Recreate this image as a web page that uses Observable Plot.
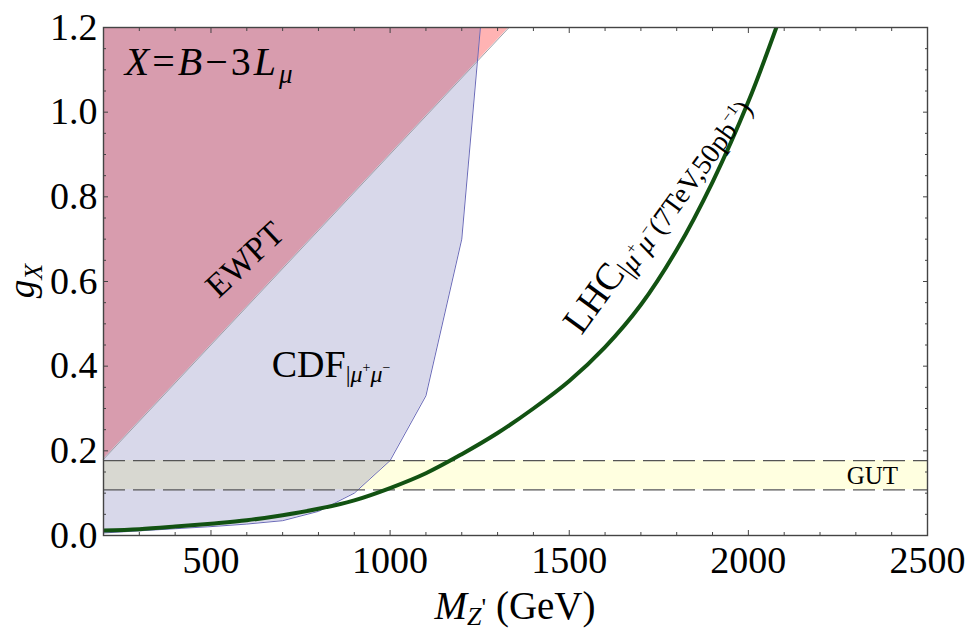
<!DOCTYPE html>
<html><head><meta charset="utf-8">
<script src="https://cdn.jsdelivr.net/npm/d3@7"></script>
<script src="https://cdn.jsdelivr.net/npm/@observablehq/plot@0.6"></script>
<style>body{margin:0;background:#fff} svg{display:block}</style>
</head><body><div id="chart"></div>
<script>
// LHC dimuon bound (green curve)
const lhcM = [200,300,400,500,600,700,800,900,1000,1100,1200,1300,1400,1500,1600,1700,1800,1900,2000,2078];
const lhcG = [0.012,0.015,0.021,0.028,0.036,0.048,0.063,0.083,0.112,0.147,0.192,0.242,0.30,0.365,0.445,0.545,0.675,0.835,1.025,1.2];
// CDF dimuon excluded region boundary
const cdfM = [200,300,400,500,600,700,800,900,1000,1100,1200,1252];
const cdfG = [0.006,0.011,0.016,0.021,0.027,0.035,0.057,0.10,0.177,0.33,0.70,1.2];
// EWPT boundary
const ewptM = [200, 1332];
const ewptG = [0.18, 1.2];
// GUT band
const gutM = [200, 2500];
const gutLow = [0.108, 0.108];
const gutHigh = [0.177, 0.177];
const gMax = 1.2;
// ticks
const xMajor = [500,1000,1500,2000,2500];
const xMinor = [300,400,600,700,800,900,1100,1200,1300,1400,1600,1700,1800,1900,2100,2200,2300,2400];
const yMajor = [0,0.2,0.4,0.6,0.8,1.0,1.2];
const yMinor = [0.05,0.1,0.15,0.25,0.3,0.35,0.45,0.5,0.55,0.65,0.7,0.75,0.85,0.9,0.95,1.05,1.1,1.15];
// annotation anchors (data units)
const labelTitle = {M: 261, g: 1.087};
const labelEWPT = {M: 594, g: 0.652};
const labelCDF = {M: 671, g: 0.374};
const labelLHC = {M: 1742, g: 0.759};
const labelGUT = {M: 2276, g: 0.120};

const lhc = lhcM.map((m,i)=>({m, g: lhcG[i]}));
const cdf = cdfM.map((m,i)=>({m, g: cdfG[i]}));
const ewpt = ewptM.map((m,i)=>({m, g: ewptG[i]}));
const gut = gutM.map((m,i)=>({m, lo: gutLow[i], hi: gutHigh[i]}));

const tickCol = "#444";
const plot = Plot.plot({
  width: 972, height: 631,
  marginLeft: 103, marginRight: 45, marginTop: 27, marginBottom: 96,
  x: {domain: [200, 2500]},
  y: {domain: [0, 1.2]},
  style: {fontFamily: "Liberation Serif", fontSize: "38px", background: "white", color: "#000"},
  marks: [
    Plot.areaY(ewpt, {x: "m", y1: "g", y2: () => gMax, fill: "#ffb3b3"}),
    Plot.areaY(gut, {x: "m", y1: "lo", y2: "hi", fill: "#ffffe0"}),
    Plot.areaY(cdf, {x: "m", y1: "g", y2: () => gMax, fill: "#49499d", fillOpacity: 0.215}),
    Plot.line(ewpt, {x: "m", y: "g", stroke: "#a0a0a8", strokeWidth: 1}),
    Plot.line(cdf, {x: "m", y: "g", stroke: "#6a6ab8", strokeWidth: 1}),
    Plot.ruleY(gutHigh.slice(0,1).concat(gutLow.slice(0,1)), {stroke: "#555", strokeWidth: 1.3, strokeDasharray: "22,8"}),
    Plot.line(lhc, {x: "m", y: "g", stroke: "#125212", strokeWidth: 4, curve: "catmull-rom", clip: true}),
    Plot.frame({stroke: tickCol, strokeWidth: 1.4}),
    // inward ticks on all four sides
    Plot.axisX(xMajor, {anchor: "bottom", tickSize: -5, fill: "none", stroke: tickCol, label: null}),
    Plot.axisX(xMinor, {anchor: "bottom", tickSize: -3, fill: "none", stroke: tickCol, label: null}),
    Plot.axisX(xMajor, {anchor: "top", tickSize: -5, fill: "none", stroke: tickCol, label: null}),
    Plot.axisX(xMinor, {anchor: "top", tickSize: -3, fill: "none", stroke: tickCol, label: null}),
    Plot.axisY(yMajor, {anchor: "left", tickSize: -5, fill: "none", stroke: tickCol, label: null}),
    Plot.axisY(yMinor, {anchor: "left", tickSize: -3, fill: "none", stroke: tickCol, label: null}),
    Plot.axisY(yMajor, {anchor: "right", tickSize: -5, fill: "none", stroke: tickCol, label: null}),
    Plot.axisY(yMinor, {anchor: "right", tickSize: -3, fill: "none", stroke: tickCol, label: null}),
    // tick labels
    Plot.axisX(xMajor, {anchor: "bottom", tickSize: 0, tickPadding: 11, fontSize: 38, fill: "#000", tickFormat: d => String(d), label: null}),
    Plot.axisY(yMajor, {anchor: "left", tickSize: 0, tickPadding: 6, fontSize: 38, fill: "#000", tickFormat: d3.format(".1f"), label: null})
  ]
});
document.getElementById("chart").appendChild(plot);

const sx = plot.scale("x"), sy = plot.scale("y");
const X = v => sx.apply(v), Y = v => sy.apply(v);
const root = d3.select(plot).append("g").style("font-family", "Liberation Serif").attr("fill", "#000").attr("text-anchor", "start");
function rich(text, segs) {
  let prev = 0;
  for (const [t, size, shift, italic] of segs) {
    text.append("tspan").style("font-size", size + "px").attr("dy", shift - prev)
      .style("font-style", italic ? "italic" : "normal").text(t);
    prev = shift;
  }
  return text;
}
// X = B - 3L_mu
rich(root.append("text").attr("x", X(labelTitle.M)).attr("y", Y(labelTitle.g)).attr("text-anchor", "start").style("letter-spacing", "3px"),
  [["X",40,0,true],["=",40,0,false],["B",40,0,true],["\u2212",40,0,false],["3",40,0,false],["L",40,0,true],["\u03bc",27,8,true]]);
// EWPT
root.append("text").attr("transform", `translate(${X(labelEWPT.M)},${Y(labelEWPT.g)}) rotate(-43)`)
  .attr("text-anchor", "middle").attr("dy", "0.35em").style("font-size", "34px").text("EWPT");
// CDF
rich(root.append("text").attr("x", X(labelCDF.M)).attr("y", Y(labelCDF.g)).attr("text-anchor", "start"),
  [["CDF",38,0,false],["|",24,5,false],["\u03bc",24,5,true],["+",14,-5,false],["\u03bc",24,5,true],["\u2212",14,-5,false]]);
// LHC
rich(root.append("text").attr("transform", `translate(${X(labelLHC.M)},${Y(labelLHC.g)}) rotate(-54)`).attr("text-anchor", "middle"),
  [["LHC",38,12,false],["|",28,18,false],["\u03bc",28,18,true],["+",16,6,false],["\u03bc",28,18,true],["\u2212",16,6,false],
   ["(7TeV,50pb",28,18,false],["\u22121",16,6,false],[")",28,18,false]]);
// GUT
root.append("text").attr("x", X(labelGUT.M)).attr("y", Y(labelGUT.g)).attr("text-anchor", "start").style("font-size", "25px").text("GUT");
// axis labels
rich(root.append("text").attr("x", 515).attr("y", 619).attr("text-anchor", "middle"),
  [["M",39,0,true],["Z",26,6,true],["'",26,-3,false],[" (GeV)",39,0,false]]);
rich(root.append("text").attr("transform", "translate(34,281) rotate(-90)").attr("text-anchor", "middle"),
  [["g",37,0,true],["X",26,8,true]]);
</script>
</body></html>
